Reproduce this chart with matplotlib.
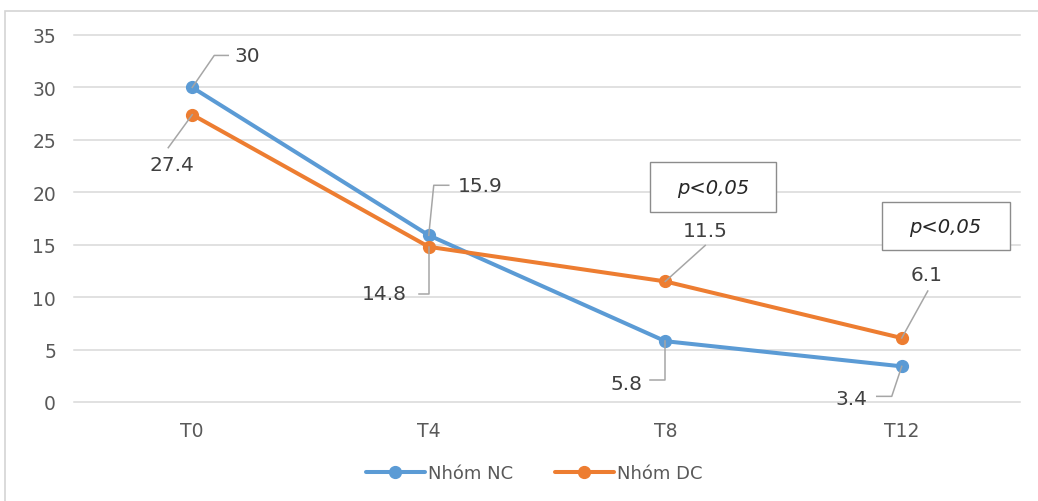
import matplotlib
matplotlib.use("Agg")
import matplotlib.pyplot as plt
from matplotlib.patches import Rectangle
from matplotlib.lines import Line2D

categories = ["T0", "T4", "T8", "T12"]
nhom_nc = [30, 15.9, 5.8, 3.4]
nhom_dc = [27.4, 14.8, 11.5, 6.1]
series_names = ["Nhóm NC", "Nhóm DC"]
y_ticks = [0, 5, 10, 15, 20, 25, 30, 35]
p_label = "p<0,05"

BLUE = "#5B9BD5"
ORANGE = "#ED7D31"
LABEL = "#404040"
TICK = "#595959"

plt.rcParams['font.family'] = ['DejaVu Sans']

W, H = 1038, 502
fig = plt.figure(figsize=(W / 100, H / 100), dpi=100)
ax = fig.add_axes([74 / W, 1 - 403 / H, (1020 - 74) / W, (403 - 36) / H])

# outer frame
fig.patches.append(Rectangle((5 / W, -0.05), 1.2, 1 - 12 / H + 0.05,
                             transform=fig.transFigure, fill=False,
                             edgecolor="#D4D4D4", linewidth=1.2))

x = list(range(len(categories)))
ax.plot(x, nhom_nc, color=BLUE, lw=2.9, marker="o", ms=8.5, label=series_names[0],
        solid_capstyle="round", zorder=3)
ax.plot(x, nhom_dc, color=ORANGE, lw=2.9, marker="o", ms=8.5, label=series_names[1],
        solid_capstyle="round", zorder=3)

ax.set_xlim(-0.5, len(categories) - 0.5)
ax.set_ylim(0, 35)
ax.set_yticks(y_ticks)
ax.set_xticks(x)
ax.set_xticklabels(categories)
ax.grid(axis="y", color="#D9D9D9", lw=1.1)
ax.set_axisbelow(True)
for gl in ax.get_ygridlines():
    gl.set_clip_on(False)
for s in ax.spines.values():
    s.set_visible(False)
ax.tick_params(axis="both", length=0, colors=TICK, labelsize=13.5)
ax.tick_params(axis="y", pad=13)
ax.tick_params(axis="x", pad=14)

# data labels with leader lines (offsets in pixels, y up)
labels = [
    (nhom_nc, 0, [(0, 0), (22, 32), (36, 32)], (42, 32), "left"),
    (nhom_dc, 0, [(0, 0), (-24, -33)], (-20, -50), "center"),
    (nhom_nc, 1, [(0, 0), (5, 50), (20, 50)], (29, 50), "left"),
    (nhom_dc, 1, [(0, 0), (0, -47), (-10, -47)], (-22, -47), "right"),
    (nhom_dc, 2, [(0, 0), (40, 36)], (40, 51), "center"),
    (nhom_nc, 2, [(0, 0), (0, -39), (-15, -39)], (-23, -42), "right"),
    (nhom_dc, 3, [(0, 0), (26, 47)], (25, 64), "center"),
    (nhom_nc, 3, [(0, 0), (-10, -30), (-25, -30)], (-34, -32), "right"),
]
for series, i, leader, toff, ha in labels:
    px, py = ax.transData.transform((x[i], series[i]))
    xs = [px + dx for dx, dy in leader]
    ys = [py + dy for dx, dy in leader]
    fig.add_artist(Line2D(xs, ys, transform=None, color="#A6A6A6", lw=1.1, zorder=2))
    txt = f"{series[i]:g}"
    fig.text(px + toff[0], py + toff[1], txt, transform=None, ha=ha, va="center",
             fontsize=14.5, color=LABEL)

# p-value boxes (data coordinates)
for (x0, x1, y0, y1) in [(1.935, 2.467, 18.11, 22.88), (2.915, 3.456, 14.49, 19.07)]:
    ax.add_patch(Rectangle((x0, y0), x1 - x0, y1 - y0, fill=True, facecolor="white",
                           edgecolor="#8C8C8C", lw=1.0, zorder=4))
    ax.text((x0 + x1) / 2, (y0 + y1) / 2, p_label, ha="center", va="center",
            fontsize=14, style="italic", color="#262626", zorder=5)

leg = fig.legend(loc="center", bbox_to_anchor=(534 / W, 1 - 474 / H), ncol=2,
                 frameon=False, fontsize=13, handlelength=3.3, handletextpad=0.15,
                 columnspacing=2.3, labelcolor=TICK)

fig.savefig("out.png", dpi=100)
